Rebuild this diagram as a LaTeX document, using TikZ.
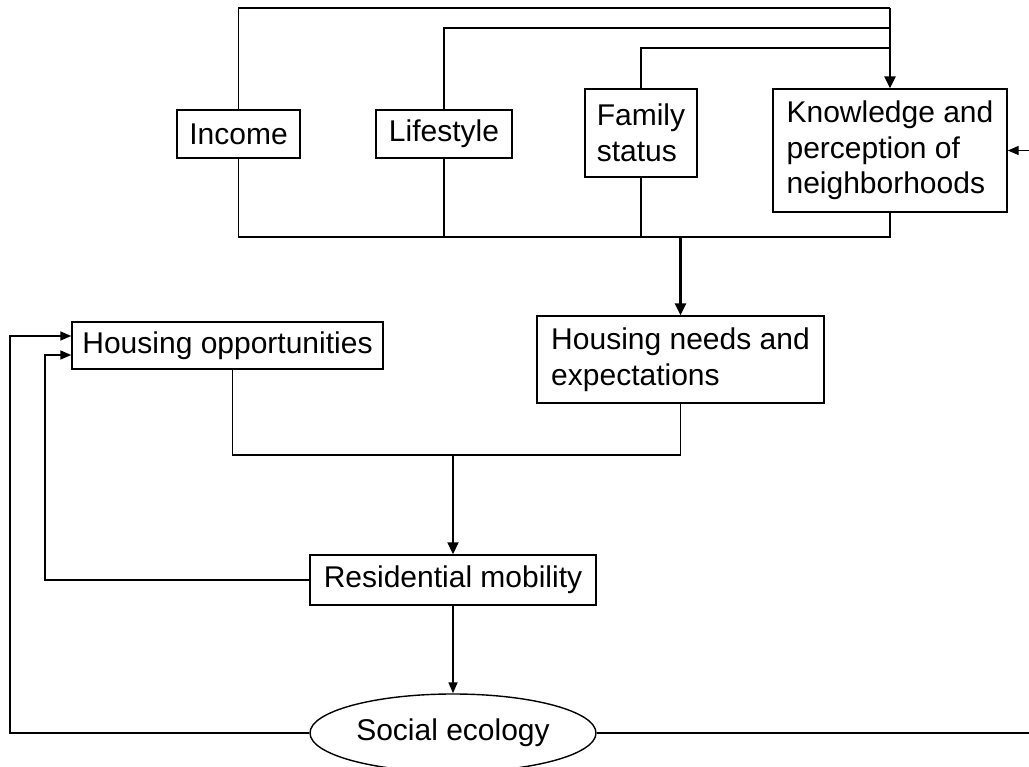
\documentclass[tikz,border=0pt]{standalone}
\usepackage{fontspec}
\setmainfont{Liberation Sans}
\usetikzlibrary{arrows.meta,shapes.geometric,calc}
\begin{document}
\begin{tikzpicture}[x=1pt,y=-1pt,
  box/.style={draw,line width=1.4pt,inner sep=0pt,font=\fontsize{30}{35.5}\selectfont,align=left},
  conn/.style={line width=1.4pt},
  arr/.style={conn,-{Triangle[length=11pt,width=9pt]}},
  thickarr/.style={line width=2.4pt,-{Triangle[length=12pt,width=11pt]}}]
\useasboundingbox (0,0) rectangle (1029,767);
\node[box,minimum width=123,minimum height=48] (income) at (238.5,134) {Income};
\node[box,minimum width=136,minimum height=48] (life) at (444,134) {Lifestyle};
\node[box,minimum width=112,minimum height=88] (family) at (641,133) {Family\\status};
\node[box,minimum width=234,minimum height=123] (know) at (890,150.5) {Knowledge and\\perception of\\neighborhoods};
\node[box,minimum width=311,minimum height=47] (hopp) at (227.5,345.5) {Housing opportunities};
\node[box,minimum width=287,minimum height=87] (hneed) at (680.5,359.5) {Housing needs and\\expectations};
\node[box,minimum width=286,minimum height=50] (resid) at (453,580) {Residential mobility};
\node[box,ellipse,minimum width=286,minimum height=78] (social) at (453,733) {Social ecology};
% top feedback lines
\coordinate (t1) at (890,8);
\coordinate (t2) at (890,28);
\coordinate (t3) at (890,48);
\draw[conn] (life.north) |- (t2);
\draw[conn] (family.north) |- (t3);
\draw[conn] (income.north) |- (t1);
\draw[thickarr] (t1) -- (know.north);
% bottom bus
\coordinate (bus) at (680.5,237);
\draw[conn] (income.south) |- (know.south |- bus) -- (know.south);
\draw[conn] (life.south) -- (life.south |- bus);
\draw[conn] (family.south) -- (family.south |- bus);
\draw[thickarr] (bus) -- (hneed.north);
% middle bus
\coordinate (bus2) at (453,455);
\draw[conn] ([xshift=5pt]hopp.south) |- (hneed.south |- bus2) -- (hneed.south);
\draw[thickarr,line width=1.8pt] (bus2) -- (resid.north);
% feedback from residential mobility
\coordinate (l1) at (45,355);
\draw[arr] (resid.west) -| (l1) -- (l1 -| hopp.west);
\draw[arr] (resid.south) -- (social.north);
% feedback from social ecology
\coordinate (l2) at (10,336);
\draw[arr] (social.west) -| (l2) -- (l2 -| hopp.west);
\coordinate (r1) at (1029,733);
\draw[conn] (social.east) -- (r1);
\coordinate (r2) at (1029,150.5);
\draw[arr] (r2) -- (know.east);
\end{tikzpicture}
\end{document}
